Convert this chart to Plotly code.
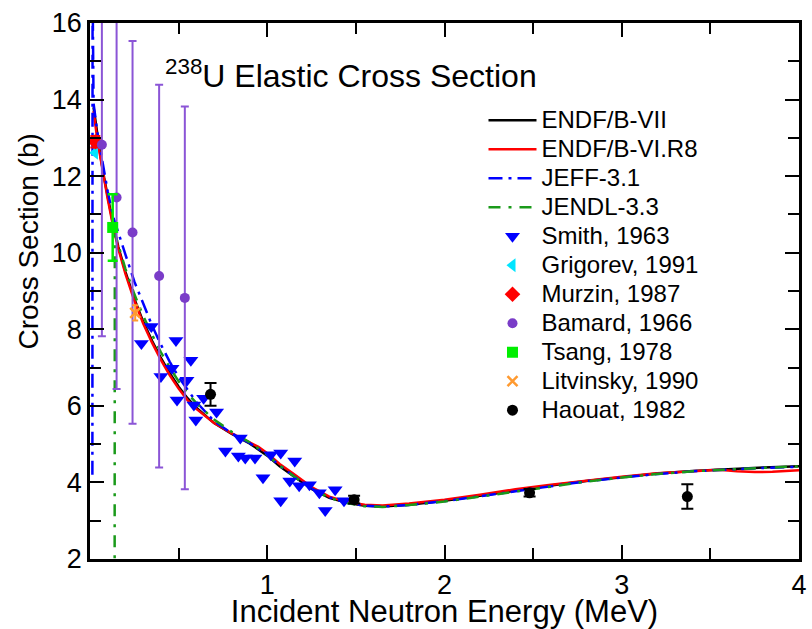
import plotly.graph_objects as go

# Evaluated elastic cross sections (MeV, barns)
endf7_e = [0.02, 0.04, 0.06, 0.08, 0.10, 0.13, 0.16, 0.20, 0.25, 0.30, 0.35, 0.40, 0.45, 0.50,
           0.55, 0.60, 0.70, 0.80, 0.90, 1.00, 1.07, 1.15, 1.25, 1.35, 1.45, 1.55, 1.65, 1.80,
           2.00, 2.20, 2.40, 2.60, 2.80, 3.00, 3.20, 3.40, 3.60, 3.80, 4.00]
endf7_s = [13.8, 13.1, 12.5, 11.95, 11.45, 10.75, 10.15, 9.5, 8.8, 8.2, 7.7, 7.25, 6.85, 6.5,
           6.2, 5.95, 5.55, 5.27, 5.02, 4.7, 4.42, 4.15, 3.83, 3.6, 3.47, 3.39, 3.37, 3.42,
           3.52, 3.65, 3.79, 3.92, 4.04, 4.14, 4.23, 4.3, 4.35, 4.39, 4.42]

endf6_e = [0.02, 0.04, 0.06, 0.08, 0.10, 0.13, 0.16, 0.20, 0.25, 0.30, 0.35, 0.40, 0.45, 0.50,
           0.55, 0.60, 0.70, 0.80, 0.90, 0.95, 1.00, 1.07, 1.15, 1.25, 1.35, 1.45, 1.55, 1.65,
           1.80, 2.00, 2.20, 2.40, 2.60, 2.80, 3.00, 3.20, 3.40, 3.55, 3.65, 3.75, 3.85, 3.95, 4.00]
endf6_s = [13.7, 13.0, 12.45, 11.9, 11.4, 10.7, 10.1, 9.45, 8.75, 8.15, 7.65, 7.2, 6.8, 6.45,
           6.15, 5.92, 5.55, 5.28, 5.05, 4.93, 4.76, 4.48, 4.22, 3.88, 3.63, 3.49, 3.42, 3.4,
           3.45, 3.55, 3.68, 3.82, 3.94, 4.05, 4.15, 4.24, 4.3, 4.33, 4.29, 4.27, 4.28, 4.3, 4.32]

jeff_e = [0.0135, 0.0145, 0.02, 0.04, 0.06, 0.08, 0.10, 0.13, 0.16, 0.20, 0.25, 0.30, 0.35,
          0.40, 0.45, 0.50, 0.60, 0.70, 0.80, 0.90, 1.00, 1.07, 1.15, 1.25, 1.35, 1.45, 1.55,
          1.65, 1.80, 2.00, 2.20, 2.40, 2.60, 2.80, 3.00, 3.20, 3.40, 3.60, 3.80, 4.00]
jeff_s = [4.2, 17.0, 13.9, 13.2, 12.65, 12.1, 11.6, 10.95, 10.5, 9.95, 9.25, 8.65, 8.1,
          7.6, 7.15, 6.75, 6.1, 5.6, 5.28, 5.03, 4.72, 4.44, 4.16, 3.84, 3.61, 3.47, 3.39,
          3.37, 3.41, 3.51, 3.64, 3.78, 3.91, 4.03, 4.13, 4.22, 4.29, 4.34, 4.38, 4.41]

jendl_e = [0.139, 0.140, 0.16, 0.20, 0.25, 0.30, 0.35, 0.40, 0.45, 0.50, 0.55, 0.60, 0.70,
           0.80, 0.90, 1.00, 1.07, 1.15, 1.25, 1.35, 1.45, 1.55, 1.65, 1.80, 2.00, 2.20,
           2.40, 2.60, 2.80, 3.00, 3.20, 3.40, 3.60, 3.80, 4.00]
jendl_s = [1.5, 10.5, 10.2, 9.58, 8.92, 8.35, 7.86, 7.4, 7.0, 6.64, 6.33, 6.07, 5.64,
           5.32, 5.05, 4.72, 4.44, 4.16, 3.84, 3.6, 3.46, 3.38, 3.36, 3.41, 3.5, 3.63,
           3.77, 3.9, 4.02, 4.13, 4.22, 4.29, 4.34, 4.38, 4.42]

# Measurements
smith_e = [0.29, 0.346, 0.485, 0.569, 0.463, 0.40, 0.547, 0.491, 0.586, 0.641, 0.714, 0.597,
           0.848, 0.764, 0.837, 0.876, 0.931, 1.02, 1.076, 1.155, 0.976, 1.127, 1.18, 1.238,
           1.076, 1.294, 1.383, 1.327, 1.433]
smith_s = [7.63, 8.07, 7.71, 7.19, 6.98, 6.77, 6.67, 6.15, 6.02, 6.20, 5.84, 5.63,
           5.16, 4.82, 4.69, 4.64, 4.64, 4.72, 4.77, 4.56, 4.12, 4.04, 3.91, 3.94,
           3.52, 3.73, 3.81, 3.27, 3.52]

grigorev_e = [0.028]
grigorev_s = [12.61]

murzin_e = [0.03]
murzin_s = [12.9]
murzin_err = [0.15]

barnard_e = [0.067, 0.15, 0.24, 0.39, 0.535]
barnard_s = [12.82, 11.44, 10.53, 9.39, 8.82]
barnard_err = [5.0, 5.0, 5.0, 5.0, 5.0]

tsang_e = [0.128]
tsang_s = [10.66]
tsang_err = [0.87]

litvinsky_e = [0.255]
litvinsky_s = [8.43]
litvinsky_err = [0.2]

haouat_e = [0.68, 1.49, 2.48, 3.37]
haouat_s = [6.30, 3.55, 3.73, 3.63]
haouat_err = [0.3, 0.1, 0.1, 0.32]

FONT = "Liberation Sans, Arial, sans-serif"


def entry(label):
    # legend labels are set a little larger than the row pitch implies
    return "<span style='font-size:24px'>" + label + "</span>"


fig = go.Figure()

fig.add_trace(go.Scatter(x=endf7_e, y=endf7_s, mode="lines", name=entry("ENDF/B-VII"),
                         line=dict(color="black", width=2.5)))
fig.add_trace(go.Scatter(x=endf6_e, y=endf6_s, mode="lines", name=entry("ENDF/B-VI.R8"),
                         line=dict(color="#ff0000", width=2.5)))
fig.add_trace(go.Scatter(x=jeff_e, y=jeff_s, mode="lines", name=entry("JEFF-3.1"),
                         line=dict(color="#0000ff", width=2.5, dash="14px,6px,3px,6px")))
fig.add_trace(go.Scatter(x=jendl_e, y=jendl_s, mode="lines", name=entry("JENDL-3.3"),
                         line=dict(color="#1a9a1a", width=2.5, dash="12px,8px,3px,8px")))

fig.add_trace(go.Scatter(x=smith_e, y=smith_s, mode="markers", name=entry("Smith, 1963"),
                         marker=dict(symbol="triangle-down", size=13, color="#0000ff")))
fig.add_trace(go.Scatter(x=grigorev_e, y=grigorev_s, mode="markers", name=entry("Grigorev, 1991"),
                         marker=dict(symbol="triangle-left", size=12, color="#00e5ff")))
fig.add_trace(go.Scatter(x=murzin_e, y=murzin_s, mode="markers", name=entry("Murzin, 1987"),
                         marker=dict(symbol="diamond", size=12, color="#ff0000"),
                         error_y=dict(type="data", array=murzin_err, color="#ff0000",
                                      thickness=2, width=5)))
fig.add_trace(go.Scatter(x=barnard_e, y=barnard_s, mode="markers", name=entry("Bamard, 1966"),
                         marker=dict(symbol="circle", size=10, color="#7a3cc8"),
                         error_y=dict(type="data", array=barnard_err, color="#8b55d6",
                                      thickness=2, width=4)))
fig.add_trace(go.Scatter(x=tsang_e, y=tsang_s, mode="markers", name=entry("Tsang, 1978"),
                         marker=dict(symbol="square", size=11, color="#00ee00"),
                         error_y=dict(type="data", array=tsang_err, color="#00ee00",
                                      thickness=2.5, width=5)))
fig.add_trace(go.Scatter(x=litvinsky_e, y=litvinsky_s, mode="markers", name=entry("Litvinsky, 1990"),
                         marker=dict(symbol="x-thin", size=10, color="#ff9a30",
                                     line=dict(width=2.5, color="#ff9a30")),
                         error_y=dict(type="data", array=litvinsky_err, color="#ff9a30",
                                      thickness=2, width=3)))
fig.add_trace(go.Scatter(x=haouat_e, y=haouat_s, mode="markers", name=entry("Haouat, 1982"),
                         marker=dict(symbol="circle", size=11, color="black"),
                         error_y=dict(type="data", array=haouat_err, color="black",
                                      thickness=2, width=6)))

axis_common = dict(
    showline=True, linecolor="black", linewidth=2.5, mirror="allticks",
    ticks="inside", ticklen=14, tickwidth=2, tickcolor="black",
    showgrid=False, zeroline=False,
    tickfont=dict(family=FONT, size=27, color="black"),
)

fig.update_xaxes(
    range=[0, 4], tickvals=[1, 2, 3, 4],
    minor=dict(tickvals=[0.5, 1.5, 2.5, 3.5], ticks="inside", ticklen=11,
               tickwidth=2, tickcolor="black", showgrid=False),
    title=dict(text="Incident Neutron Energy (MeV)",
               font=dict(family=FONT, size=31, color="black"), standoff=2),
    **axis_common,
)
fig.update_yaxes(
    range=[2, 16], tickvals=[2, 4, 6, 8, 10, 12, 14, 16],
    minor=dict(tickvals=[3, 5, 7, 9, 11, 13, 15], ticks="inside", ticklen=11,
               tickwidth=2, tickcolor="black", showgrid=False),
    **axis_common,
)

# y-axis title sits above the middle of the axis
fig.add_annotation(
    text="Cross Section (b)", textangle=-90,
    xref="paper", yref="paper", x=-0.087, y=0.593,
    xanchor="center", yanchor="middle", showarrow=False,
    font=dict(family=FONT, size=28, color="black"),
)

fig.add_annotation(
    text="<sup>238</sup>U Elastic Cross Section",
    xref="paper", yref="paper", x=0.103, y=0.905,
    xanchor="left", yanchor="middle", showarrow=False,
    font=dict(family=FONT, size=32, color="black"),
)

fig.update_layout(
    width=812, height=629,
    margin=dict(l=90, r=5, t=23, b=67),
    paper_bgcolor="white", plot_bgcolor="white",
    showlegend=True,
    legend=dict(x=0.555, y=0.855, xanchor="left", yanchor="top",
                bgcolor="rgba(0,0,0,0)", borderwidth=0, itemwidth=48,
                font=dict(family=FONT, size=20, color="black"),
                tracegroupgap=0),
)

fig.write_html("out.html")
